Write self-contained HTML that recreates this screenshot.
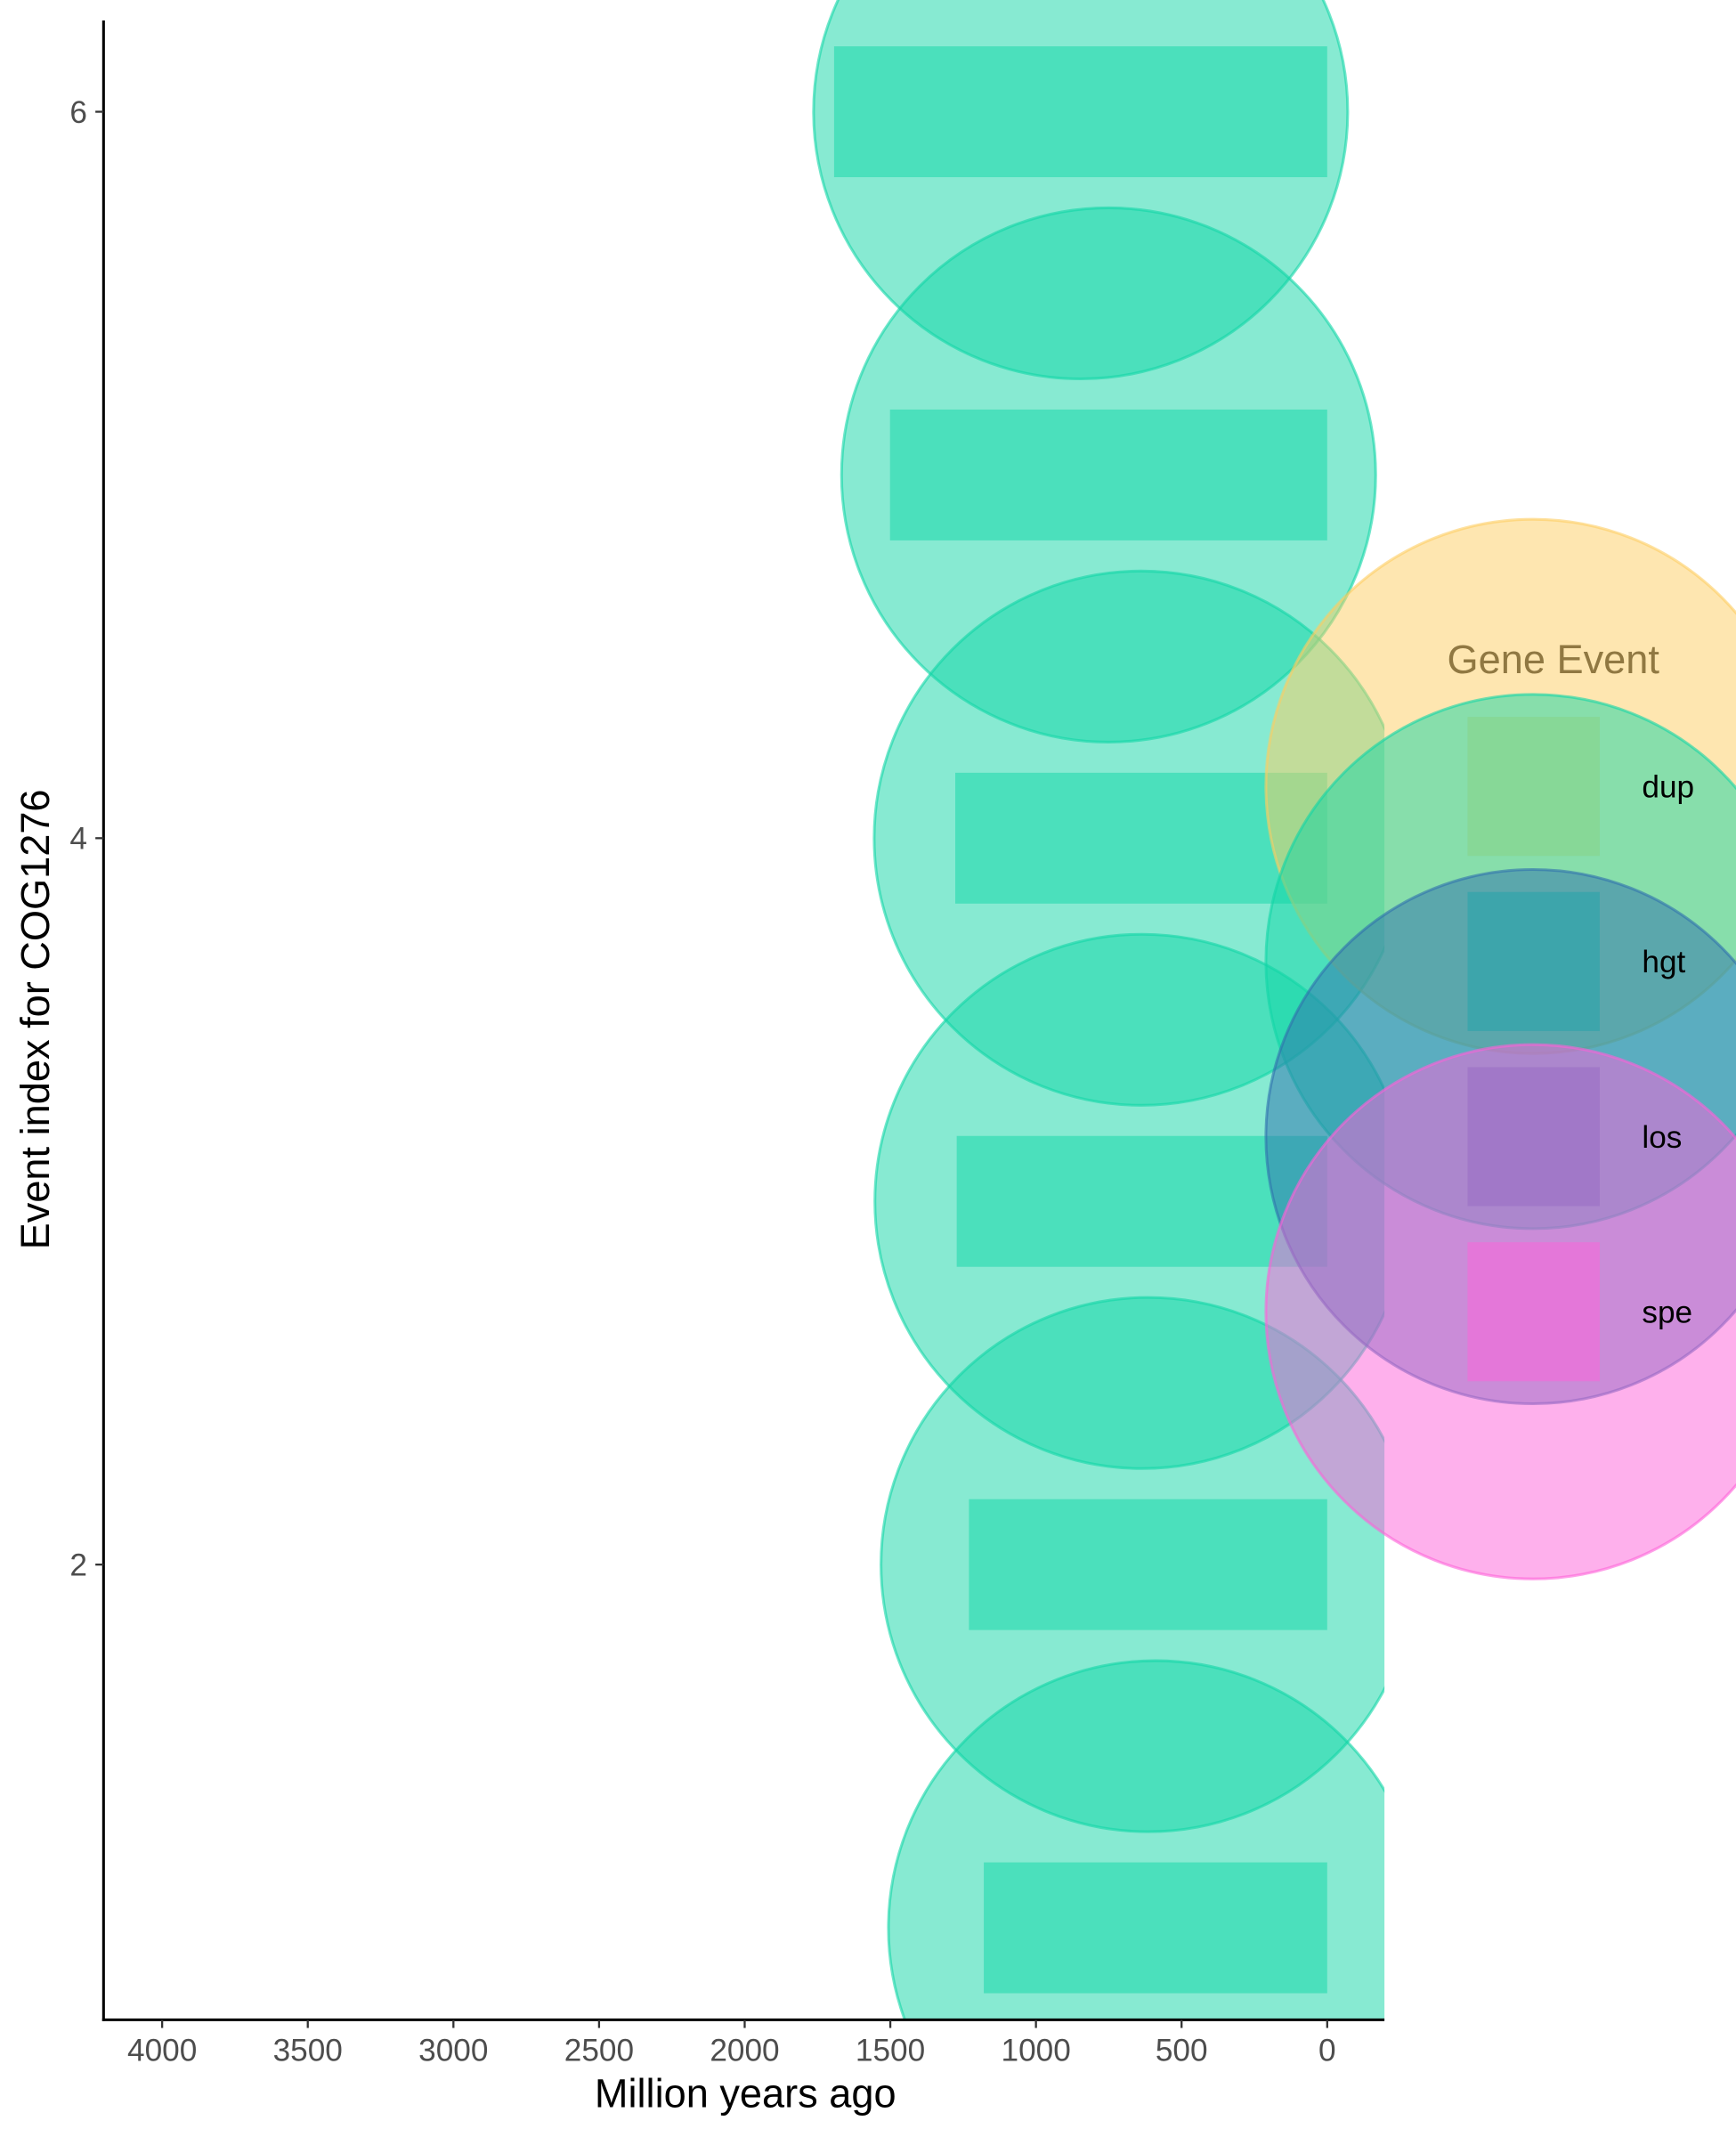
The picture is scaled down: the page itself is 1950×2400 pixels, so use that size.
<!DOCTYPE html>
<html><head><meta charset="utf-8"><style>html,body{margin:0;padding:0;background:#fff}svg{display:block}</style></head>
<body>
<svg id="chart" width="1950" height="2400" viewBox="0 0 1274 1568" preserveAspectRatio="none" xmlns="http://www.w3.org/2000/svg" font-family="Liberation Sans, sans-serif">
<defs><clipPath id="plotclip"><rect x="76" y="-400" width="940" height="1882"/></clipPath></defs>
<g id="marks" clip-path="url(#plotclip)"></g>
<g id="axes"></g>
<g id="legend"></g>
</svg>
<script>
const eventIdx = [6, 5, 4, 3, 2, 1];
const startMya = [1693, 1501, 1277, 1272, 1230, 1179];
const eventType = ['hgt','hgt','hgt','hgt','hgt','hgt'];
const xTicks = [4000, 3500, 3000, 2500, 2000, 1500, 1000, 500, 0];
const yTicks = [2, 4, 6];
const legendKeys = ['dup','hgt','los','spe'];
const legendColors = ['#fdcd61','#10d6a6','#2f6fae','#fd61d9'];

const NS = 'http://www.w3.org/2000/svg';
const xs = v => 974 - v * (974 - 119) / 4000;
const ys = v => 615 - (v - 4) * 266.5;
const R = 196;
const colorOf = t => legendColors[legendKeys.indexOf(t)];
function mk(tag, attrs, parent){const e=document.createElementNS(NS,tag);for(const k in attrs)e.setAttribute(k,attrs[k]);parent.appendChild(e);return e;}
const marks = document.getElementById('marks');
eventIdx.forEach((ev,i)=>{
  const c = colorOf(eventType[i]);
  const circ = mk('circle',{cx:xs(startMya[i]/2),cy:ys(ev),r:R,fill:c,'fill-opacity':0.5,stroke:c,'stroke-opacity':0.6,'stroke-width':2},marks);
  
  
});
eventIdx.forEach((ev,i)=>{
  const c = colorOf(eventType[i]);
  const r = mk('rect',{x:xs(startMya[i]),y:ys(ev)-48,width:xs(0)-xs(startMya[i]),height:96,fill:c,'fill-opacity':0.5},marks);
  
  
});
const axes = document.getElementById('axes');
mk('line',{x1:76,y1:15,x2:76,y2:1483,stroke:'#000','stroke-width':2},axes);
mk('line',{x1:75,y1:1482,x2:1016,y2:1482,stroke:'#000','stroke-width':2},axes);
xTicks.forEach(t=>{
  mk('line',{x1:xs(t),y1:1482,x2:xs(t),y2:1488,stroke:'#333','stroke-width':1.5},axes);
  const tx = mk('text',{x:xs(t),y:1512,'text-anchor':'middle','font-size':23,fill:'#4d4d4d'},axes);
  tx.textContent=t;
  
  
});
yTicks.forEach(t=>{
  mk('line',{x1:70,y1:ys(t),x2:76,y2:ys(t),stroke:'#333','stroke-width':1.5},axes);
  const tx = mk('text',{x:64,y:ys(t)+8,'text-anchor':'end','font-size':23,fill:'#4d4d4d'},axes);
  tx.textContent=t;
  
  
});
const xt = mk('text',{x:547,y:1546,'text-anchor':'middle','font-size':29.5,fill:'#000'},axes);
xt.textContent='Million years ago';


const yt = mk('text',{x:0,y:0,transform:'translate(36,748) rotate(-90)','text-anchor':'middle','font-size':29.5,fill:'#000'},axes);
yt.textContent='Event index for COG1276';



const lg = document.getElementById('legend');
const lt = mk('text',{x:1062,y:494,'font-size':29.5,fill:'#222'},lg);
lt.textContent='Gene Event';


legendKeys.forEach((k,i)=>{
  const cy = 577 + i*128.5;
  const c = legendColors[i];
  const g = mk('g',{},lg);
  
  
  mk('circle',{cx:1125,cy:cy,r:R,fill:c,'fill-opacity':0.5,stroke:c,'stroke-opacity':0.6,'stroke-width':2},g);
  mk('rect',{x:1077,y:cy-51,width:97,height:102,fill:c,'fill-opacity':0.5},g);
});
legendKeys.forEach((k,i)=>{
  const cy = 577 + i*128.5;
  const t = mk('text',{x:1205,y:cy+8,'font-size':23,fill:'#000'},lg);
  t.textContent=k;
  
  
});
</script>
</body></html>
